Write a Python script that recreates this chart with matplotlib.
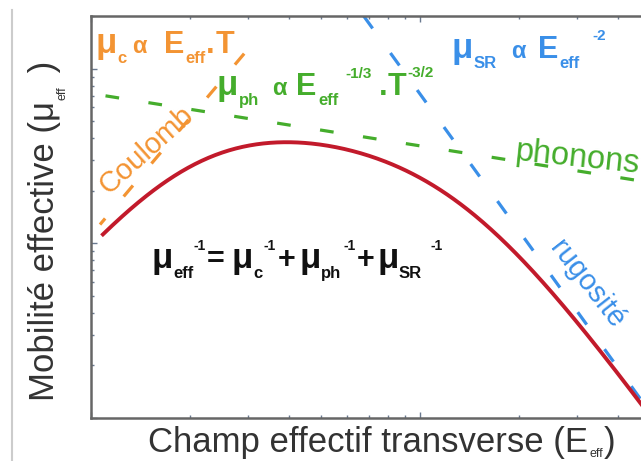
import numpy as np
import matplotlib
matplotlib.use("Agg")
import matplotlib.pyplot as plt
from matplotlib.lines import Line2D

plt.rcParams['font.family'] = ['Liberation Sans', 'DejaVu Sans']

# Scattering-limited mobility laws (end points of each asymptote, log-log)
E_coul = [1.065, 3.31]
mu_coul = [1.28, 16.1]
E_phon = [1.0, 50.0]
mu_phon = [7.2, 2.23]
E_rough = [6.74, 50.0]
mu_rough = [20.0, 0.108]
E_total = [1.087, 50.0]

C_ORANGE = '#f39433'
C_GREEN = '#45ad2c'
C_BLUE = '#3a8fe8'
C_RED = '#c21a2b'
C_TEXT = '#333333'


def power_law(E_pts, mu_pts):
    k = np.log(mu_pts[1] / mu_pts[0]) / np.log(E_pts[1] / E_pts[0])
    a = mu_pts[0] / E_pts[0] ** k
    return lambda E: a * np.asarray(E) ** k


mu_c = power_law(E_coul, mu_coul)
mu_ph = power_law(E_phon, mu_phon)
mu_sr = power_law(E_rough, mu_rough)

W, H = 641, 461
fig = plt.figure(figsize=(W / 100, H / 100), dpi=100)
ax = fig.add_axes([91 / W, 1 - 418 / H, 559 / W, 402 / H])
ax.set_xscale('log')
ax.set_yscale('log')
ax.set_xlim(1, 50)
ax.set_ylim(0.1, 20)

# asymptotes
ax.plot(E_coul, mu_coul, color=C_ORANGE, lw=2.3, linestyle=(2, (4.5, 9)))
ax.plot(E_phon, mu_phon, color=C_GREEN, lw=2.3, linestyle=(9, (4.3, 9.3)))
ax.plot(E_rough, mu_rough, color=C_BLUE, lw=2.3, linestyle=(0, (4.8, 9.5)))

# Matthiessen rule: 1/mu_eff = 1/mu_c + 1/mu_ph + 1/mu_SR
E = np.logspace(np.log10(E_total[0]), np.log10(E_total[1]), 400)
mu_eff = 1.0 / (1.0 / mu_c(E) + 1.0 / mu_ph(E) + 1.0 / mu_sr(E))
ax.plot(E, mu_eff, color=C_RED, lw=2.8)

# axes styling
for side in ('left', 'bottom', 'top'):
    ax.spines[side].set_color('#666666')
    ax.spines[side].set_linewidth(1.8)
ax.spines['right'].set_visible(False)
ax.tick_params(which='both', direction='in', top=True, right=False,
               labelbottom=False, labelleft=False, color='#6a7a90', width=1)
ax.tick_params(which='major', length=4)
ax.tick_params(which='minor', length=2.5)

renderer = fig.canvas.get_renderer()


def ftxt(px, py, s, **kw):
    return fig.text(px / W, 1 - py / H, s, **kw)


def run(y0, items, color):
    """Place text pieces left to right: (text, size, baseline shift, x).

    A piece never starts before the end of the previous one."""
    x_end = -1e9
    for s, size, dy, x in items:
        x = max(x, x_end + 0.5)
        t = ftxt(x, y0 + dy, s, color=color, fontsize=size, fontweight='bold',
                 ha='left', va='baseline')
        x_end = x + t.get_window_extent(renderer).width


# axis titles
ftxt(588, 452, 'Champ effectif transverse (E', fontsize=25, color=C_TEXT,
     ha='right', va='baseline')
ftxt(589, 457, 'eff', fontsize=9, color=C_TEXT, ha='left', va='baseline')
ftxt(604, 452, ')', fontsize=25, color=C_TEXT, ha='left', va='baseline')

ftxt(54, 101, 'Mobilité effective (μ', fontsize=25, color=C_TEXT, rotation=90,
     ha='right', va='baseline', rotation_mode='anchor')
ftxt(66, 100, 'eff', fontsize=9, color=C_TEXT, rotation=90,
     ha='left', va='baseline', rotation_mode='anchor')
ftxt(54, 82, ' )', fontsize=25, color=C_TEXT, rotation=90,
     ha='left', va='baseline', rotation_mode='anchor')

# scattering laws
run(53, [('μ', 25, 0, 95), ('c', 12, 10, 116), ('α', 17, 0, 132),
         ('E', 22, 0, 164), ('eff', 12, 10, 181), ('.', 22, 0, 201),
         ('T', 22, 0, 216)], C_ORANGE)
run(95, [('μ', 25, 0, 217), ('ph', 12, 10, 236), ('α', 17, 0, 272),
         ('E', 22, 0, 296), ('eff', 12, 10, 318), ('-1/3', 11, -17, 345),
         ('.', 22, 0, 379), ('T', 22, 0, 386), ('-3/2', 11, -18, 404)], C_GREEN)
run(58, [('μ', 25, 0, 452), ('SR', 12, 10, 472), ('α', 17, 0, 511),
         ('E', 22, 0, 538), ('eff', 12, 10, 559), ('-2', 11, -18, 592)], C_BLUE)
run(268, [('μ', 25, 0, 151), ('eff', 12, 10, 169), ('-1', 10, -18, 194),
          ('=', 22, 0, 204), ('μ', 25, 0, 232), ('c', 12, 10, 250),
          ('-1', 10, -18, 262), ('+', 22, 0, 278), ('μ', 25, 0, 299),
          ('ph', 12, 10, 319), ('-1', 10, -18, 344), ('+', 22, 0, 357),
          ('μ', 25, 0, 377), ('SR', 12, 10, 399), ('-1', 10, -18, 431)],
    '#111111')

# mechanism names along the asymptotes
ftxt(146, 150, 'Coulomb', color=C_ORANGE, fontsize=21, rotation=42,
     ha='center', va='center', rotation_mode='anchor')
ftxt(515, 160, 'phonons', color=C_GREEN, fontsize=23.5, rotation=-6,
     ha='left', va='baseline', rotation_mode='anchor')
ftxt(587, 284, 'rugosité', color=C_BLUE, fontsize=21, rotation=-52,
     ha='center', va='center', rotation_mode='anchor')

# frame line at the left edge
fig.add_artist(Line2D([12 / W, 12 / W], [0, 1 - 10 / H], transform=fig.transFigure,
                      color='#cccccc', lw=1.5))

fig.savefig('out.png', dpi=100)
